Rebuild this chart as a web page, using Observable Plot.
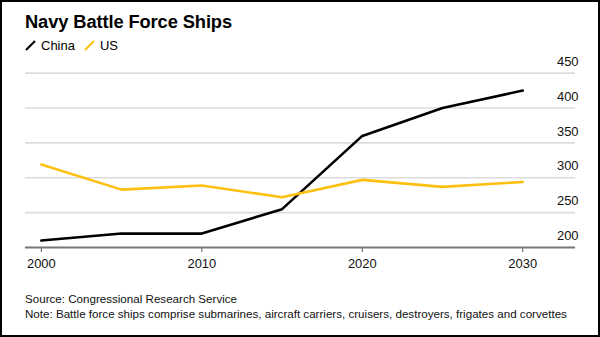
<!DOCTYPE html>
<html>
<head>
<meta charset="utf-8">
<script src="https://cdn.jsdelivr.net/npm/d3@7"></script>
<script src="https://cdn.jsdelivr.net/npm/@observablehq/plot@0.6"></script>
<style>
  html, body { margin: 0; padding: 0; background: #fff; }
  #frame { position: relative; width: 600px; height: 337px; box-sizing: border-box; border: 2px solid #000; overflow: hidden; font-family: "Liberation Sans", Arial, sans-serif; color: #000; }
  #title { position: absolute; left: 23px; top: 9px; font-size: 18.3px; font-weight: 700; letter-spacing: -0.1px; }
  #legend { position: absolute; left: 23px; top: 36px; font-size: 13px; display: flex; align-items: center; }
  #legend .item { display: flex; align-items: center; margin-right: 9px; }
  #legend svg { margin-right: 5px; }
  #chart { position: absolute; left: -2px; top: 48px; }
  #caption { position: absolute; left: 23px; top: 290px; font-size: 11.6px; line-height: 14.5px; color: #111; }
</style>
</head>
<body>
<div id="frame">
  <div id="title">Navy Battle Force Ships</div>
  <div id="legend"></div>
  <div id="chart"></div>
  <div id="caption">Source: Congressional Research Service<br>Note: Battle force ships comprise submarines, aircraft carriers, cruisers, destroyers, frigates and corvettes</div>
</div>
<script>
const years = [2000, 2005, 2010, 2015, 2020, 2025, 2030];
const china = [210, 220, 220, 255, 360, 400, 425];
const us = [319, 283, 289, 272, 297, 287, 294];
const seriesNames = ["China", "US"];
const seriesColors = ["#000000", "#fdc010"];
const yTicks = [200, 250, 300, 350, 400, 450];
const xTicks = [2000, 2010, 2020, 2030];

const data = [];
years.forEach((y, i) => {
  data.push({year: y, value: china[i], series: "China"});
  data.push({year: y, value: us[i], series: "US"});
});

// legend
const legend = document.getElementById("legend");
seriesNames.forEach((name, i) => {
  const item = document.createElement("div");
  item.className = "item";
  item.innerHTML = `<svg width="11" height="11"><line x1="1" y1="10" x2="10" y2="1" stroke="${seriesColors[i]}" stroke-width="2.2"/></svg><span>${name}</span>`;
  legend.appendChild(item);
});

const plot = Plot.plot({
  width: 600,
  height: 232,
  marginLeft: 25,
  marginRight: 23,
  marginTop: 22.7,
  marginBottom: 34.3,
  style: {fontFamily: "Liberation Sans, Arial, sans-serif", fontSize: "13px", color: "#111", background: "transparent"},
  x: {domain: [2000, 2030], range: [41, 524]},
  y: {domain: [200, 450]},
  color: {domain: seriesNames, range: seriesColors},
  marks: [
    Plot.gridY(yTicks.filter(d => d > 200), {stroke: "#dcdcdc", strokeOpacity: 1, strokeWidth: 1.6}),
    Plot.axisY(yTicks, {anchor: "right", tickSize: 0, tickPadding: 0, textAnchor: "end", dx: 3, dy: -11.5, label: null, fontSize: 13}),
    Plot.axisX(xTicks, {anchor: "bottom", tickSize: 5, tickPadding: 6, stroke: "#555", tickFormat: d => String(d), label: null, fontSize: 13}),
    Plot.ruleY([200], {stroke: "#777", strokeWidth: 2}),
    Plot.line(data, {x: "year", y: "value", z: "series", stroke: "series", strokeWidth: 2.6, strokeLinejoin: "miter"})
  ]
});
document.getElementById("chart").appendChild(plot);
</script>
</body>
</html>
